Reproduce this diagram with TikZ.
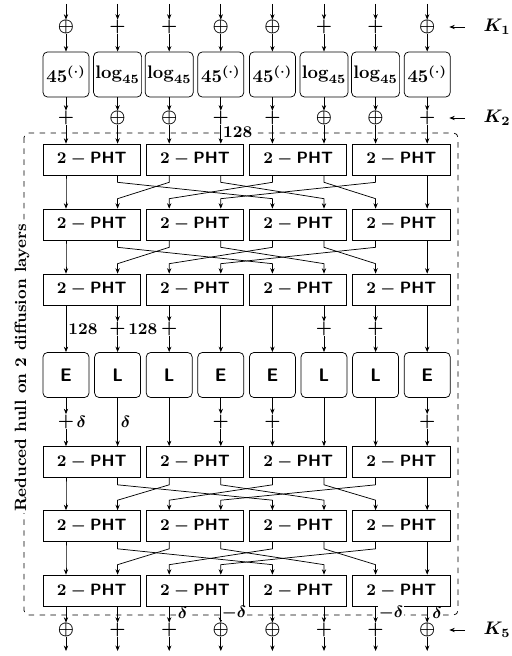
\documentclass[tikz,border=0pt]{standalone}
\usetikzlibrary{arrows.meta}
\tikzset{hull/.style={x=0.55pt,y=-0.55pt,font=\bfseries\boldmath,>={Stealth[length=3pt,width=2.4pt]}},
  sbox/.style={draw,rounded corners=2.5pt,minimum width=25.3pt,minimum height=24.8pt,inner sep=1pt},
  pht/.style={draw,minimum width=53.4pt,minimum height=17pt,inner sep=1pt,font=\small\bfseries\boldmath},
  opx/.style={inner sep=0pt},
  lab/.style={inner sep=1pt,font=\small\bfseries\boldmath}}
\def\ex{$45^{(\cdot)}$}
\def\lg{$\log_{45}$}

\begin{document}
\begin{tikzpicture}[hull]
    \useasboundingbox (0,0) rectangle (511,656);
    \foreach \i in {0,...,7} \coordinate (c\i) at ({66+51.6*\i},0);
    % 2-PHT layers
    \foreach \r/\y in {1/159.5,2/224.5,3/289.5,4/462,5/526,6/590.5}
      \foreach \b in {0,1,2,3} \node[pht] (ph\r\b) at ({91.8+103.2*\b},\y) {$2-\textsf{PHT}$};
    % input, key K1, exp/log, key K2
    \foreach \i/\a/\t/\o in {0/\oplus/\ex/+,1/+/\lg/\oplus,2/+/\lg/\oplus,3/\oplus/\ex/+,4/\oplus/\ex/+,5/+/\lg/\oplus,6/+/\lg/\oplus,7/\oplus/\ex/+}{
      \pgfmathsetmacro\x{66+51.6*\i}
      \pgfmathtruncatemacro\b{\i/2}
      \coordinate (in\i) at (\x,4);
      \node[opx] (ka\i) at (\x,27) {$\a$};
      \node[sbox] (s\i) at (\x,74.5) {\t};
      \node[opx] (kb\i) at (\x,118) {$\o$};
      \draw[->] (in\i) -- (ka\i);
      \draw[->] (ka\i) -- (s\i);
      \draw[->] (s\i) -- (kb\i);
      \draw[->] (kb\i) -- (c\i |- ph1\b.north);
    }
    % shuffle between layers
    \foreach \r/\s in {1/2,2/3,4/5,5/6}
      \foreach \i/\j in {0/0,1/4,2/1,3/5,4/2,5/6,6/3,7/7}{
        \pgfmathtruncatemacro\a{\i/2}
        \pgfmathtruncatemacro\b{\j/2}
        \draw[->] (c\i |- ph\r\a.south) -- ++(0,7) -- ([yshift=5.5pt]c\j |- ph\s\b.north) -- (c\j |- ph\s\b.north);
      }
    % E / L boxes
    \foreach \i/\t in {0/E,1/L,2/L,3/E,4/E,5/L,6/L,7/E}
      \node[sbox] (el\i) at ({66+51.6*\i},375) {\textsf{\t}};
    \foreach \i in {1,2,5,6}{
      \pgfmathtruncatemacro\b{\i/2}
      \node[opx] (ku\i) at ({66+51.6*\i},329) {$+$};
      \draw[->] (c\i |- ph3\b.south) -- (ku\i);
      \draw[->] (ku\i) -- (el\i);
      \draw[->] (el\i) -- (c\i |- ph4\b.north);
    }
    \foreach \i in {0,3,4,7}{
      \pgfmathtruncatemacro\b{\i/2}
      \node[opx] (kv\i) at ({66+51.6*\i},421.5) {$+$};
      \draw[->] (c\i |- ph3\b.south) -- (el\i);
      \draw[->] (el\i) -- (kv\i);
      \draw[->] (kv\i) -- (c\i |- ph4\b.north);
    }
    % output key K5
    \foreach \i/\o in {0/\oplus,1/+,2/+,3/\oplus,4/\oplus,5/+,6/+,7/\oplus}{
      \pgfmathtruncatemacro\b{\i/2}
      \node[opx] (kc\i) at ({66+51.6*\i},630) {$\o$};
      \coordinate (out\i) at ({66+51.6*\i},651);
      \draw[->] (c\i |- ph6\b.south) -- (kc\i);
      \draw[->] (kc\i) -- (out\i);
    }
    % reduced hull
    \draw[dashed,rounded corners=2.5pt] (24,133) rectangle (458,615);
    \node[lab,fill=white,rotate=90,font=\small\bfseries] (hull) at (22,368) {Reduced hull on 2 diffusion layers};
    \node[lab,fill=white,anchor=west] (n128) at (221,132) {128};
    \node[lab] (m128) at (83,329) {128};
    \node[lab,anchor=west] (p128) at (ku1.east) {128};
    \node[lab,anchor=west] (d0) at (kv0.east) {$\delta$};
    \node[lab] (d1) at (125.5,421.5) {$\delta$};
    \foreach \n/\x/\t in {e2/182.5/\delta,e3/234/-\delta,e6/391/-\delta,e7/437/\delta}
      \node[lab,fill=white,inner sep=0.3pt] (\n) at (\x,613) {$\t$};
    % keys
    \foreach \k/\n/\y in {1/ka7/27,2/kb7/118,5/kc7/630}{
      \node[inner sep=1pt] (k\k) at (497,\y) {$K_\k$};
      \draw[->] ([xshift=-9pt]k\k.west) -- ([xshift=7.5pt]\n.east);
    }
\end{tikzpicture}
\end{document}
